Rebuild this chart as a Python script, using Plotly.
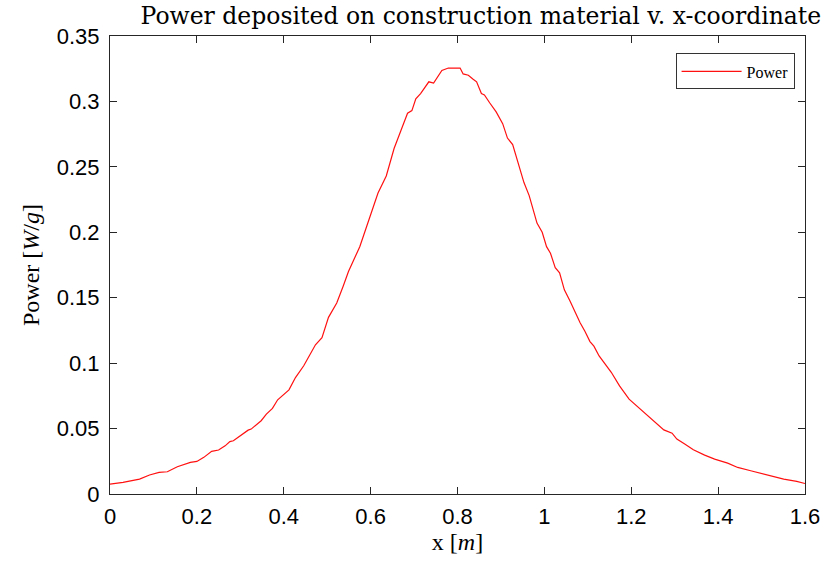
import plotly.graph_objects as go

x_m = [0.000, 0.030, 0.068, 0.091, 0.113, 0.132, 0.155, 0.185, 0.200, 0.216, 0.234, 0.250,
       0.265, 0.276, 0.284, 0.299, 0.318, 0.325, 0.348, 0.360, 0.374, 0.386, 0.400, 0.412,
       0.427, 0.446, 0.473, 0.488, 0.503, 0.522, 0.537, 0.549, 0.575, 0.601, 0.617, 0.636,
       0.654, 0.670, 0.685, 0.695, 0.704, 0.715, 0.734, 0.745, 0.764, 0.779, 0.806, 0.813,
       0.825, 0.836, 0.844, 0.855, 0.862, 0.874, 0.889, 0.904, 0.915, 0.927, 0.953, 0.965,
       0.983, 0.995, 1.005, 1.014, 1.025, 1.035, 1.046, 1.059, 1.082, 1.093, 1.105, 1.114,
       1.126, 1.154, 1.173, 1.195, 1.222, 1.233, 1.275, 1.294, 1.305, 1.324, 1.343, 1.369,
       1.392, 1.422, 1.445, 1.475, 1.506, 1.521, 1.551, 1.581, 1.600]
power = [0.0075, 0.0089, 0.0114, 0.0145, 0.0165, 0.0170, 0.0208, 0.0242, 0.0249, 0.0280, 0.0326, 0.0336,
         0.0368, 0.0400, 0.0407, 0.0445, 0.0488, 0.0496, 0.0560, 0.0610, 0.0654, 0.0720, 0.0760, 0.0796,
         0.0890, 0.0980, 0.1140, 0.1195, 0.1350, 0.1460, 0.1590, 0.1700, 0.1890, 0.2150, 0.2300, 0.2430,
         0.2640, 0.2780, 0.2910, 0.2930, 0.3020, 0.3060, 0.3150, 0.3140, 0.3237, 0.3255, 0.3255, 0.3210,
         0.3200, 0.3170, 0.3150, 0.3060, 0.3050, 0.2990, 0.2920, 0.2830, 0.2720, 0.2670, 0.2380, 0.2280,
         0.2070, 0.2000, 0.1890, 0.1840, 0.1730, 0.1690, 0.1560, 0.1475, 0.1310, 0.1246, 0.1165, 0.1130,
         0.1055, 0.0930, 0.0826, 0.0725, 0.0648, 0.0610, 0.0490, 0.0465, 0.0420, 0.0380, 0.0338, 0.0297,
         0.0267, 0.0236, 0.0203, 0.0178, 0.0153, 0.0135, 0.0114, 0.0097, 0.0080]

x_ticks = [0, 0.2, 0.4, 0.6, 0.8, 1.0, 1.2, 1.4, 1.6]
x_ticklabels = ["0", "0.2", "0.4", "0.6", "0.8", "1", "1.2", "1.4", "1.6"]
y_ticks = [0, 0.05, 0.10, 0.15, 0.20, 0.25, 0.30, 0.35]
y_ticklabels = ["0", "0.05", "0.1", "0.15", "0.2", "0.25", "0.3", "0.35"]

axcol = "#262626"
serif = "Liberation Serif, DejaVu Serif, serif"
sans = "Liberation Sans, Arial, sans-serif"

fig = go.Figure()
fig.add_trace(go.Scatter(x=x_m, y=power, mode="lines", name="Power",
                         line=dict(color="#FF1010", width=1.2)))

fig.update_layout(
    width=832, height=562,
    margin=dict(l=110, r=17, t=36, b=67),
    paper_bgcolor="white", plot_bgcolor="white",
    title=dict(text="Power deposited on construction material v. x-coordinate",
               x=0.578, xanchor="center", y=0.972, yanchor="middle",
               font=dict(family="DejaVu Serif, serif", size=23.5, color="black")),
    showlegend=True,
    legend=dict(x=0.985, y=0.962, xanchor="right", yanchor="top",
                bgcolor="white", bordercolor="#333333", borderwidth=1,
                font=dict(family=serif, size=16, color="black"),
                itemwidth=60),
    xaxis=dict(range=[0, 1.6], tickvals=x_ticks, ticktext=x_ticklabels,
               showgrid=False, zeroline=False, showline=True, linecolor=axcol, linewidth=1,
               mirror="allticks", ticks="inside", ticklen=7, tickcolor=axcol,
               ticklabelstandoff=3,
               tickfont=dict(family=sans, size=22, color="black"),
               title=dict(text="x [<i>m</i>]", standoff=4,
                          font=dict(family=serif, size=24, color="black"))),
    yaxis=dict(range=[0, 0.35], tickvals=y_ticks, ticktext=y_ticklabels,
               showgrid=False, zeroline=False, showline=True, linecolor=axcol, linewidth=1,
               mirror="allticks", ticks="inside", ticklen=7, tickcolor=axcol,
               ticklabelstandoff=5,
               tickfont=dict(family=sans, size=22, color="black"),
               title=dict(text="Power [<i>W</i>/<i>g</i>]", standoff=10,
                          font=dict(family=serif, size=24, color="black"))),
)

fig.write_html("out.html")
